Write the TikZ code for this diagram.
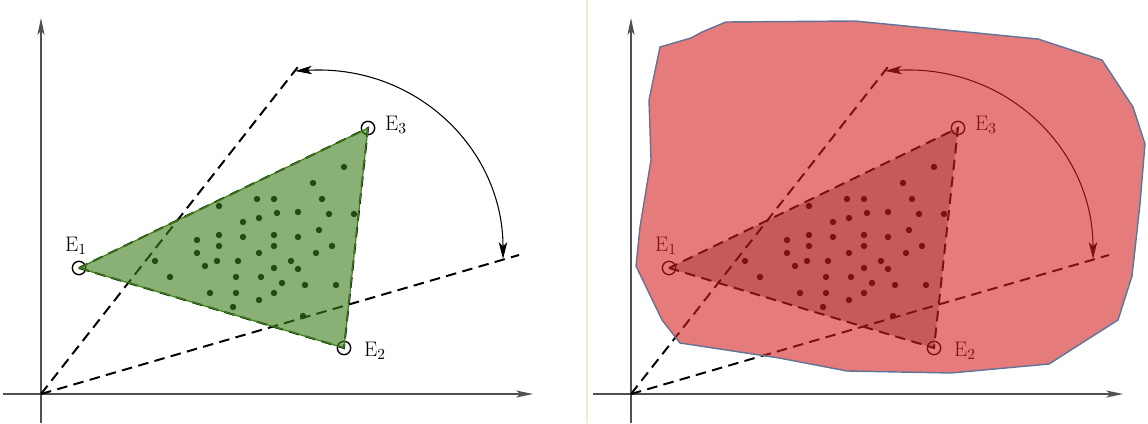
\documentclass[tikz,border=0pt]{standalone}
\usepackage{tikz}
\usetikzlibrary{arrows.meta}
\definecolor{tintgreen}{RGB}{60,125,25}
\definecolor{hullred}{RGB}{212,30,30}
\definecolor{hullblue}{RGB}{96,116,152}
\definecolor{axgray}{RGB}{80,80,80}
\definecolor{paleline}{RGB}{242,236,205}
\newcommand{\simplexfig}[1]{%
  \draw[ax] (-38,0) -- (492,0);
  \draw[ax] (0,-29) -- (0,376);
  \coordinate (o) at (0,0);
  \coordinate (v1) at (38,126);
  \coordinate (v2) at (303,46);
  \coordinate (v3) at (327,266);
  \coordinate (t1) at (260,331);
  \coordinate (t2) at (478,139);
  \coordinate (a1) at (254,323);
  \coordinate (a2) at (462,135);
  \fill[#1] (v1) -- (v2) -- (v3) -- cycle;
  \draw[dsh] (v1) -- (v2) -- (v3) -- cycle;
  \foreach \p in {(303,227),(272,211),(281,195),(216,195),(233,195),(178,188),
      (236,181),(257,182),(288,180),(313,180),(218,176),(202,172),(278,164),
      (156,154),(178,159),(202,157),(233,159),(257,157),(291,148),(178,148),
      (156,141),(233,148),(218,141),(275,141),(114,133),(176,133),(197,133),
      (250,133),(164,128),(233,126),(257,125),(129,117),(195,117),(220,117),
      (241,111),(264,109),(295,109),(169,101),(195,101),(218,94),(233,101),
      (192,87),(262,78)}
    \fill \p circle[radius=3.2];
  \draw[dsh] (o) -- (t1);
  \draw[dsh] (o) -- (t2);
  \draw[turn] (a1) .. controls (375,330) and (462,245) .. (a2);
  \node[vtx] (e1) at (v1) {};
  \node[vtx] (e2) at (v2) {};
  \node[vtx] (e3) at (v3) {};
  \node[lbl] (l1) at (35,148) {E$_1$};
  \node[lbl] (l2) at (334,43) {E$_2$};
  \node[lbl] (l3) at (355,269) {E$_3$};}
\tikzset{
  ax/.style={-{Stealth[length=12pt,width=5pt,inset=3pt]}, axgray, line width=0.9pt},
  dsh/.style={dash pattern=on 7.5pt off 4.5pt, line width=1.4pt},
  turn/.style={{Stealth[length=12pt,width=6pt,inset=3pt]}-{Stealth[length=12pt,width=6pt,inset=3pt]}, line width=0.75pt},
  vtx/.style={circle, draw, line width=1pt, minimum size=9.5pt, inner sep=0pt},
  lbl/.style={font=\fontsize{15}{17}\selectfont, inner sep=0pt},
  tint/.style={fill=tintgreen, fill opacity=0.6, draw=tintgreen, line width=0.8pt},
  hull/.style={fill=hullred, fill opacity=0.59, draw=hullblue, line width=1pt},
}
\begin{document}
\begin{tikzpicture}[x=0.025cm,y=0.025cm]
\useasboundingbox (0,0) rectangle (1148,423);
\draw[paleline, line width=0.8pt] (587,0) -- (587,423);
% convex hull of the three points
\begin{scope}[shift={(41,29)}]
  \simplexfig{white}
  \draw[tint] (v1) -- (v2) -- (v3) -- cycle;
\end{scope}
% larger region around it
\begin{scope}[shift={(631,29)}]
  \simplexfig{black!30}
  \draw[hull] (95,372) -- (224,373) -- (407,355) -- (471,334) -- (502,287)
    -- (514,250) -- (509,190) -- (501,118) -- (487,74) -- (418,30) -- (320,21)
    -- (216,23) -- (148,36) -- (49,51) -- (31,74) -- (18,101) -- (5,128)
    -- (9,167) -- (20,234) -- (18,294) -- (29,347) -- (60,356) -- (71,362) -- cycle;
\end{scope}
\end{tikzpicture}
\end{document}
